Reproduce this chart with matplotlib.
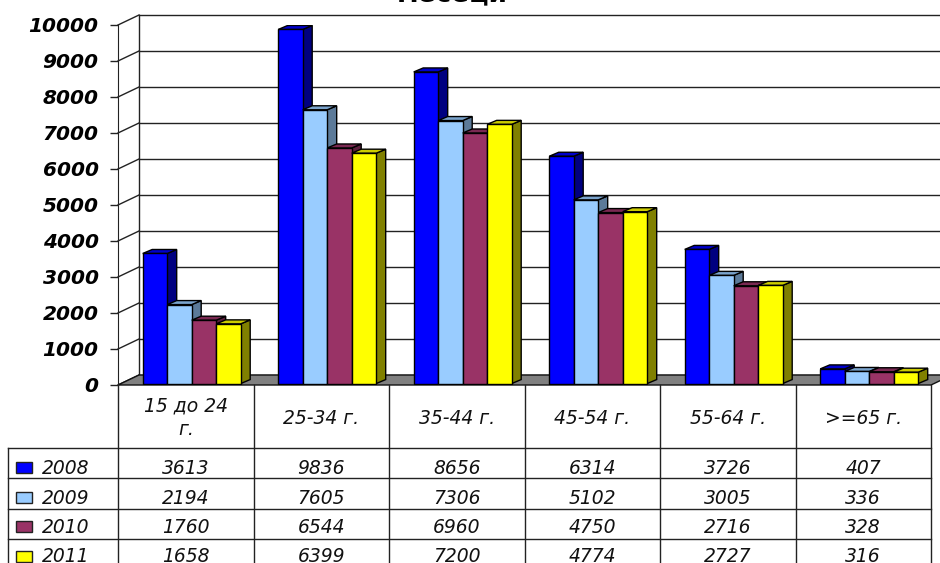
import matplotlib.pyplot as plt
from matplotlib.patches import Polygon, Rectangle
from matplotlib.transforms import blended_transform_factory

# age groups and yearly counts
ages = ['15 до 24\nг.', '25-34 г.', '35-44 г.', '45-54 г.', '55-64 г.', '>=65 г.']
years = ['2008', '2009', '2010', '2011']
v2008 = [3613, 9836, 8656, 6314, 3726, 407]
v2009 = [2194, 7605, 7306, 5102, 3005, 336]
v2010 = [1760, 6544, 6960, 4750, 2716, 328]
v2011 = [1658, 6399, 7200, 4774, 2727, 316]
series = [v2008, v2009, v2010, v2011]
yticks = list(range(0, 10001, 1000))

# face colours: front, top, side
front = ['#0000ff', '#99ccff', '#993366', '#ffff00']
top = ['#0000cc', '#7aa3cc', '#7a2952', '#cccc00']
side = ['#000080', '#5c7a99', '#5c1f3d', '#808000']

W, H = 940, 563
fig = plt.figure(figsize=(W / 100, H / 100), dpi=100)
fig.patch.set_facecolor('white')

# front plane of the 3-d box, in pixels
x0, x1, y0, y1 = 118, 931, 385, 25
ax = fig.add_axes([x0 / W, 1 - y0 / H, (x1 - x0) / W, (y0 - y1) / H])
ax.set_xlim(0, len(ages))
ax.set_ylim(0, 10000)
ax.patch.set_visible(False)

px_x = len(ages) / (x1 - x0)
px_y = 10000 / (y0 - y1)
dx, dy = 21 * px_x, 10 * px_y      # depth of the box

line_kw = dict(color='#222222', lw=1, clip_on=False)

# back wall and side wall gridlines
n = len(ages)
for v in yticks:
    ax.plot([dx, n + dx], [v + dy, v + dy], zorder=0.5, **line_kw)
    ax.plot([0, dx], [v, v + dy], zorder=0.5, **line_kw)
ax.plot([dx, dx], [dy, 10000 + dy], zorder=0.5, **line_kw)

# floor
ax.add_patch(Polygon([(0, 0), (n, 0), (n + dx, dy), (dx, dy)],
                     fc='#808080', ec='#111111', lw=1, zorder=0.6, clip_on=False))

# bars with side and top faces
bw = 24.5 * px_x
off = 24.7 * px_x
bdx, bdy = 9.5 * px_x, 4 * px_y
base = 40
for i in range(n):
    for j, vals in enumerate(series):
        xl = i + off + j * bw
        h = vals[i]
        ax.add_patch(Polygon([(xl + bw, base), (xl + bw, base + h),
                              (xl + bw + bdx, base + h + bdy), (xl + bw + bdx, base + bdy)],
                             fc=side[j], ec='black', lw=1, zorder=1))
        ax.add_patch(Polygon([(xl, base + h), (xl + bw, base + h),
                              (xl + bw + bdx, base + h + bdy), (xl + bdx, base + h + bdy)],
                             fc=top[j], ec='black', lw=1, zorder=1))
        ax.bar(xl, h, bw, bottom=base, align='edge', color=front[j],
               edgecolor='black', lw=1, zorder=1)

# axis
ax.set_xticks([])
ax.set_yticks(yticks)
ax.tick_params(axis='y', direction='out', length=6, width=1, pad=8,
               labelsize=14.5, color='#222222')
for lbl in ax.get_yticklabels():
    lbl.set_fontweight('bold')
    lbl.set_fontstyle('italic')
for s in ['top', 'right', 'bottom']:
    ax.spines[s].set_visible(False)
ax.spines['left'].set_color('#222222')

# title (upper part sits above the figure edge)
fig.text(452 / W, 1 - 1.5 / H, 'месеци', ha='center', va='baseline',
         fontsize=19, fontweight='bold')

# data table under the plot
fx = lambda p: p / W
fy = lambda p: 1 - p / H
tcat = blended_transform_factory(ax.transData, fig.transFigure)
tfig = fig.transFigure

row_top = 448
row_h = 30.3
for k in range(len(years) + 1):
    yy = fy(row_top + k * row_h)
    ax.plot([fx(8), fx(x1)], [yy, yy], transform=tfig, **line_kw)
ax.plot([fx(8), fx(8)], [fy(row_top), 0], transform=tfig, **line_kw)
for i in range(n + 1):
    ax.plot([i, i], [fy(y0), 0], transform=tcat, **line_kw)

txt_kw = dict(fontsize=13.5, fontstyle='italic', color='#111111')
for i, lab in enumerate(ages):
    ax.text(i + 0.5, fy(418), lab, transform=tcat, ha='center', va='center',
            linespacing=1.3, **txt_kw)

for k, (yr, vals) in enumerate(zip(years, series)):
    base_y = 474 + k * 29.5
    ax.add_patch(Rectangle((fx(16), fy(base_y - 1)), 16 / W, 11 / H,
                           transform=tfig, fc=front[k], ec='#222222', lw=1,
                           clip_on=False))
    ax.text(fx(42), fy(base_y), yr, transform=tfig, ha='left', va='baseline', **txt_kw)
    for i, v in enumerate(vals):
        ax.text(i + 0.5, fy(base_y), str(v), transform=tcat, ha='center',
                va='baseline', **txt_kw)

fig.savefig('out.png', dpi=100)
